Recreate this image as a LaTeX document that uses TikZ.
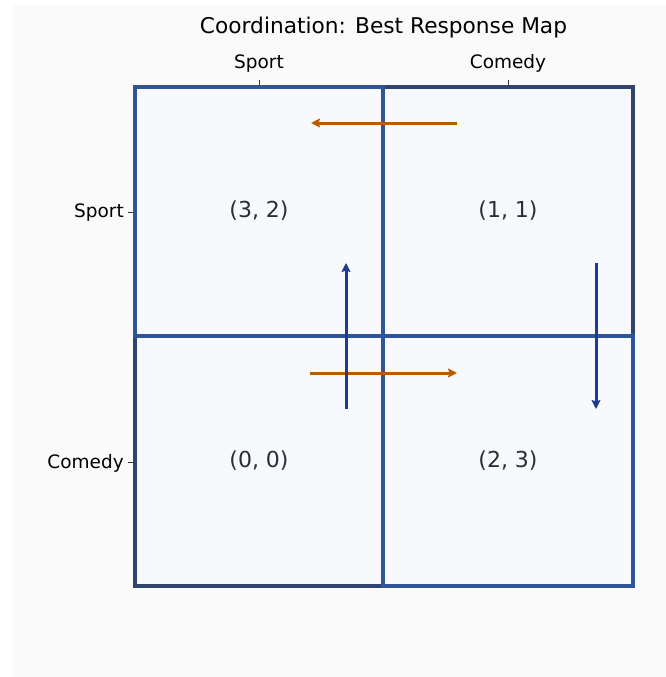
\documentclass[tikz,border=0pt]{standalone}
\usepackage{fontspec}
\setmainfont{DejaVu Sans}
\usetikzlibrary{arrows.meta}
\definecolor{bgc}{HTML}{FAFAFA}
\definecolor{cellc}{HTML}{F7F9FC}
\definecolor{nec}{HTML}{2E5597}
\definecolor{thinc}{HTML}{2F4470}
\definecolor{orangec}{HTML}{B85C00}
\definecolor{bluec}{HTML}{1F3A93}
\definecolor{payc}{HTML}{2B2D38}
\definecolor{tickc}{HTML}{333333}
\tikzset{
  cellthin/.style={draw=thinc, line width=3.2pt, fill=cellc},
  cellne/.style={draw=nec, line width=4.6pt, fill=cellc},
  payoff/.style={font=\fontsize{22}{26}\selectfont, text=payc},
  ticklab/.style={font=\fontsize{18.5}{22}\selectfont, text=black, inner sep=0pt},
  tickmark/.style={draw=tickc, line width=0.9pt},
  brarrow/.style={line width=3pt, -{Stealth[length=9pt,width=9pt,inset=1.5pt]}},
}
\begin{document}
\begin{tikzpicture}[x=1pt,y=-1pt]
\useasboundingbox (0,0) rectangle (666,677);
\fill[white] (0,0) rectangle (666,677);
\fill[bgc] (12,5) rectangle (666,677);
% title
\node[font=\fontsize{21.7}{26}\selectfont] (title) at (383.5,28) {Coordination: Best Response Map};
% non-equilibrium cells
\path[cellthin] (383,87) rectangle (633,336);
\path[cellthin] (135,336) rectangle (383,586);
% equilibrium cells
\path[cellne] (135,87) rectangle (383,336);
\path[cellne] (383,336) rectangle (633,586);
% payoffs
\node[payoff] (p11) at (259,211) {(3, 2)};
\node[payoff] (p12) at (508,211) {(1, 1)};
\node[payoff] (p21) at (259,461) {(0, 0)};
\node[payoff] (p22) at (508,461) {(2, 3)};
% column ticks & labels
\draw[tickmark] (259,80) -- (259,85);
\draw[tickmark] (508,80) -- (508,85);
\node[ticklab, anchor=base] (c1) at (259,68) {Sport};
\node[ticklab, anchor=base] (c2) at (508,68) {Comedy};
% row ticks & labels
\draw[tickmark] (128,212) -- (133,212);
\draw[tickmark] (128,462) -- (133,462);
\node[ticklab, anchor=east] (r1) at (124,213) {Sport};
\node[ticklab, anchor=east] (r2) at (124,463) {Comedy};
% best-response arrows
\coordinate (o1s) at (457,123); \coordinate (o1e) at (311,123);
\coordinate (o2s) at (310,373); \coordinate (o2e) at (457,373);
\coordinate (b1s) at (346,409); \coordinate (b1e) at (346,263);
\coordinate (b2s) at (596,263); \coordinate (b2e) at (596,409);
\draw[brarrow, draw=orangec, fill=orangec] (o1s) -- (o1e);
\draw[brarrow, draw=orangec, fill=orangec] (o2s) -- (o2e);
\draw[brarrow, draw=bluec, fill=bluec] (b1s) -- (b1e);
\draw[brarrow, draw=bluec, fill=bluec] (b2s) -- (b2e);
\end{tikzpicture}
\end{document}
